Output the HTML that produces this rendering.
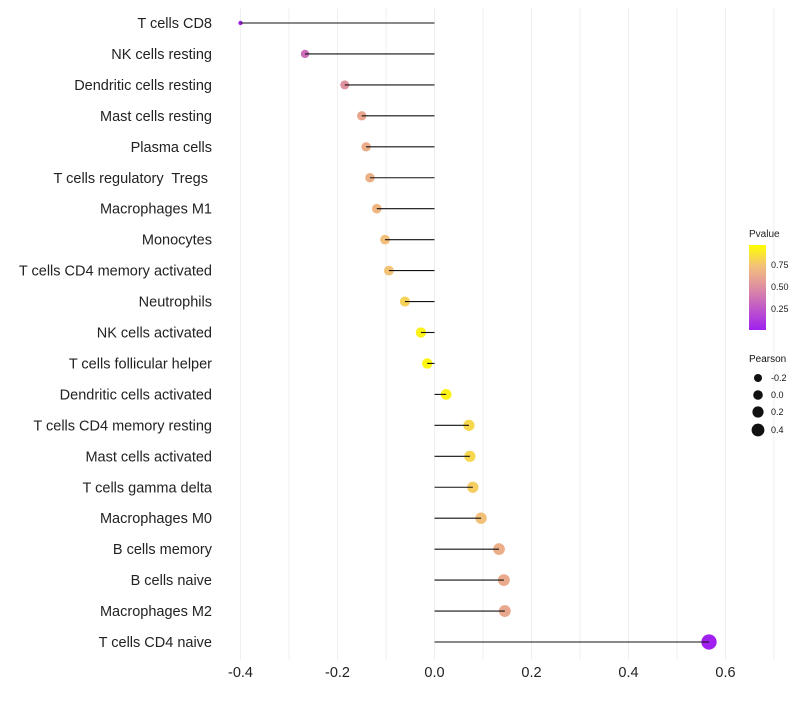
<!DOCTYPE html>
<html><head><meta charset="utf-8"><style>
body{margin:0;background:#fff;font-family:"Liberation Sans",sans-serif;}
</style></head><body>
<svg id="chart" width="800" height="700" xmlns="http://www.w3.org/2000/svg">
<defs><linearGradient id="pg" x1="0" y1="1" x2="0" y2="0">
<stop offset="0" stop-color="#a020f0"/><stop offset="0.5" stop-color="#de8ea2"/><stop offset="0.75" stop-color="#f3c07a"/><stop offset="1" stop-color="#ffff00"/>
</linearGradient></defs>
<g id="grid"></g><g id="marks"></g><g id="labels"></g>
<g font-size="9" fill="#222">
<text x="749" y="237" font-size="10">Pvalue</text>
<rect x="749" y="245" width="17" height="85" fill="url(#pg)"/>
<text x="771" y="268">0.75</text><text x="771" y="290">0.50</text><text x="771" y="312">0.25</text>
</g>
<g font-size="9" fill="#111">
<text x="749" y="362" font-size="10">Pearson</text>
<circle cx="758" cy="378" r="4"/><text x="771" y="381">-0.2</text>
<circle cx="758" cy="395" r="4.8"/><text x="771" y="398">0.0</text>
<circle cx="758" cy="412" r="5.6"/><text x="771" y="415">0.2</text>
<circle cx="758" cy="430" r="6.4"/><text x="771" y="433">0.4</text>
</g>
</svg>
<script>
const cells=["T cells CD8","NK cells resting","Dendritic cells resting","Mast cells resting","Plasma cells","T cells regulatory  Tregs ","Macrophages M1","Monocytes","T cells CD4 memory activated","Neutrophils","NK cells activated","T cells follicular helper","Dendritic cells activated","T cells CD4 memory resting","Mast cells activated","T cells gamma delta","Macrophages M0","B cells memory","B cells naive","Macrophages M2","T cells CD4 naive"];
const pearson=[-0.40,-0.267,-0.185,-0.15,-0.141,-0.133,-0.119,-0.102,-0.094,-0.061,-0.028,-0.015,0.024,0.071,0.073,0.079,0.096,0.133,0.143,0.145,0.566];
const pvalue=[0.02,0.35,0.52,0.62,0.65,0.67,0.7,0.74,0.76,0.82,0.95,0.96,0.95,0.84,0.84,0.8,0.75,0.66,0.64,0.63,0.0];
const xTicks=[-0.4,-0.2,0.0,0.2,0.4,0.6];
const NS="http://www.w3.org/2000/svg";
const X=v=>434.5+v*485;
const Y=i=>23+i*30.95;
function col(p){const st=[[0,[160,32,240]],[0.5,[222,142,162]],[0.75,[243,192,122]],[1,[255,255,0]]];
 let t=Math.max(0,Math.min(1,p));for(let k=1;k<st.length;k++){if(t<=st[k][0]){const a=st[k-1],b=st[k];const f=(t-a[0])/(b[0]-a[0]);
 return "rgb("+a[1].map((c,j)=>Math.round(c+(b[1][j]-c)*f)).join(",")+")";}}return "rgb(255,255,0)";}
function mk(tag,at,parent){const e=document.createElementNS(NS,tag);for(const k in at)e.setAttribute(k,at[k]);document.getElementById(parent).appendChild(e);return e;}
for(let v=-0.4;v<=0.71;v+=0.1){const l=mk("line",{x1:X(v),x2:X(v),y1:8,y2:660,stroke:"#efefef","stroke-width":1},"grid");

}
xTicks.forEach(t=>{const e=mk("text",{x:X(t),y:677,"text-anchor":"middle","font-size":14.5,fill:"#222"},"labels");e.textContent=t.toFixed(1);

});
cells.forEach((c,i)=>{const y=Y(i),v=pearson[i];
const r=v<-0.3?2.2:5.3+4.2*v;
const d=mk("circle",{cx:X(v),cy:y,r:r,fill:col(pvalue[i])},"marks");


const s=mk("line",{x1:X(0),x2:X(v),y1:y,y2:y,stroke:"#111","stroke-width":1.1},"marks");


const t=mk("text",{x:212,y:y+5,"text-anchor":"end","font-size":14.5,fill:"#222"},"labels");t.textContent=c;
t.setAttribute('xml:space','preserve');t.style.whiteSpace='pre';

});
</script>
</body></html>
